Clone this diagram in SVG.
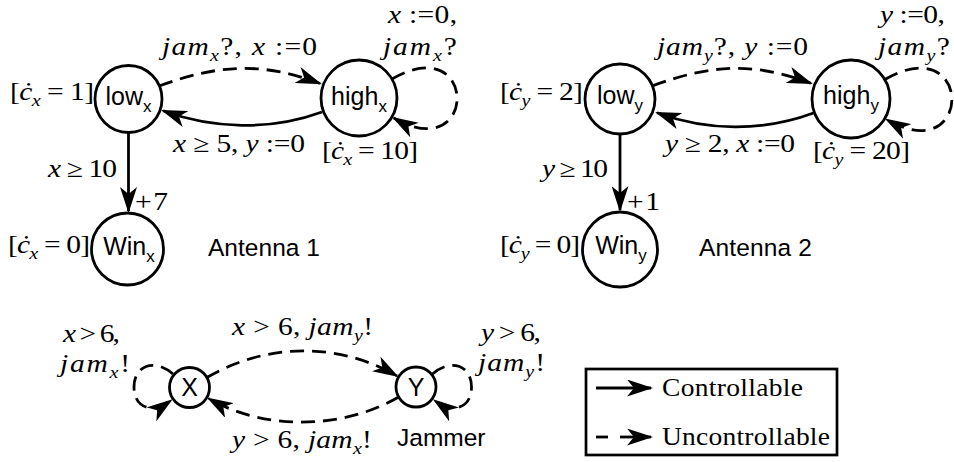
<svg xmlns="http://www.w3.org/2000/svg" width="954" height="462" viewBox="0 0 954 462">
<defs>
<marker id="ah" viewBox="0 0 26 17" refX="24" refY="8.5" markerWidth="26" markerHeight="17" markerUnits="userSpaceOnUse" orient="auto">
<path d="M26,8.5 L0,0 L7,8.5 L0,17 Z" fill="#000"/>
</marker>
<style>
.n{fill:#fff;stroke:#000;stroke-width:2.8}
.e{fill:none;stroke:#000;stroke-width:2.8}
.d{stroke-dasharray:14 8}
.a{marker-end:url(#ah)}
.sf{font-family:"Liberation Sans",Arial,sans-serif;font-size:25px;fill:#000}
.m{font-family:"Liberation Serif","Times New Roman",serif;font-size:25px;fill:#000}
.i{font-style:italic}
.s{font-size:17px}
</style>
</defs>
<rect width="954" height="462" fill="#fff"/>

<g id="connectors">
<path class="e d a" d="M159,86 C219,64 263,62 320,83.5"/>
<path class="e a" d="M322,112 C270,131 213,129 163,110.8"/>
<path class="e a" d="M128.5,132.5 L128.5,211"/>
<path class="e d a" d="M392,79 C478.6,29 478.6,167 393.7,118"/>

<path class="e d a" d="M652.4,85.9 C712,64 753,62 811,83.3"/>
<path class="e a" d="M813.5,113 C762,132 707,131 657,112.7"/>
<path class="e a" d="M620,134 L620,210"/>
<path class="e d a" d="M884.8,79.5 C974,28 974,170 886.5,119.5"/>

<path class="e d a" d="M206.8,377.5 C267.4,342.5 338.1,342 397,376"/>
<path class="e d a" d="M398.7,397 C341.5,430 264,430.5 208.6,398.5"/>
<path class="e d a" d="M173,374 C155,358 134,365 134,387 C134,408 152,414 171,400.5"/>
<path class="e d a" d="M432.5,374 C450.5,358 471.5,365 471.5,387 C471.5,408 453.5,414 434.5,400.5"/>
</g>

<g id="low_x"><circle class="n" cx="128.5" cy="99" r="33.5"/><text class="sf" x="128.5" y="105" text-anchor="middle">low<tspan class="s" dy="7">x</tspan></text></g>
<g id="high_x"><circle class="n" cx="359" cy="98" r="38"/><text class="sf" x="359" y="105" text-anchor="middle">high<tspan class="s" dy="7">x</tspan></text></g>
<g id="win_x"><circle class="n" cx="127.5" cy="249" r="36"/><text class="sf" x="129" y="255" text-anchor="middle">Win<tspan class="s" dy="7">x</tspan></text></g>

<g id="low_y"><circle class="n" cx="620" cy="99" r="35"/><text class="sf" x="620" y="104" text-anchor="middle">low<tspan class="s" dy="7">y</tspan></text></g>
<g id="high_y"><circle class="n" cx="851" cy="99" r="39"/><text class="sf" x="851" y="104" text-anchor="middle">high<tspan class="s" dy="7">y</tspan></text></g>
<g id="win_y"><circle class="n" cx="620" cy="249.5" r="37.5"/><text class="sf" x="621" y="254" text-anchor="middle">Win<tspan class="s" dy="7">y</tspan></text></g>

<g id="jam_X"><circle class="n" cx="189.5" cy="387.5" r="20"/><text class="sf" x="189.5" y="396" text-anchor="middle">X</text></g>
<g id="jam_Y"><circle class="n" cx="416" cy="387" r="20"/><text class="sf" x="416" y="396" text-anchor="middle">Y</text></g>

<g id="labels">
<text class="m" transform="matrix(1.18 0 0 1 388 23)" textLength="58.5"><tspan class="i">x</tspan> :=0,</text>
<text class="m" transform="matrix(1.18 0 0 1 383 55)" textLength="62.7"><tspan class="i">jam</tspan><tspan class="i s" dy="6">x</tspan><tspan dy="-6">?</tspan></text>
<text class="m" transform="matrix(1.18 0 0 1 162 55)" textLength="131.4"><tspan class="i">jam</tspan><tspan class="i s" dy="6">x</tspan><tspan dy="-6">?, </tspan><tspan class="i">x</tspan> :=0</text>
<text class="m" transform="matrix(1.18 0 0 1 10 100)" textLength="71.2">[<tspan class="i">ċ</tspan><tspan class="i s" dy="6">x</tspan><tspan dy="-6"> = 1]</tspan></text>
<text class="m" transform="matrix(1.18 0 0 1 173 152)" textLength="111.9"><tspan class="i">x</tspan> ≥ 5, <tspan class="i">y</tspan> :=0</text>
<text class="m" transform="matrix(1.18 0 0 1 322 159)" textLength="81.4">[<tspan class="i">ċ</tspan><tspan class="i s" dy="6">x</tspan><tspan dy="-6"> = 10]</tspan></text>
<text class="m" transform="matrix(1.18 0 0 1 48 177)" textLength="58.5"><tspan class="i">x</tspan> ≥ 10</text>
<text class="m" transform="matrix(1.18 0 0 1 135 210)" textLength="28">+7</text>
<text class="m" transform="matrix(1.18 0 0 1 8 253)" textLength="69.5">[<tspan class="i">ċ</tspan><tspan class="i s" dy="6">x</tspan><tspan dy="-6"> = 0]</tspan></text>
<text class="sf" x="208" y="256" textLength="112" style="font-size:24.5px">Antenna 1</text>

<text class="m" transform="matrix(1.18 0 0 1 880 23)" textLength="55.1"><tspan class="i">y</tspan> :=0,</text>
<text class="m" transform="matrix(1.18 0 0 1 878 55)" textLength="61"><tspan class="i">jam</tspan><tspan class="i s" dy="6">y</tspan><tspan dy="-6">?</tspan></text>
<text class="m" transform="matrix(1.18 0 0 1 657 55)" textLength="128"><tspan class="i">jam</tspan><tspan class="i s" dy="6">y</tspan><tspan dy="-6">?, </tspan><tspan class="i">y</tspan> :=0</text>
<text class="m" transform="matrix(1.18 0 0 1 500 100)" textLength="70.3">[<tspan class="i">ċ</tspan><tspan class="i s" dy="6">y</tspan><tspan dy="-6"> = 2]</tspan></text>
<text class="m" transform="matrix(1.18 0 0 1 665 152)" textLength="110.2"><tspan class="i">y</tspan> ≥ 2, <tspan class="i">x</tspan> :=0</text>
<text class="m" transform="matrix(1.18 0 0 1 813 159)" textLength="82.2">[<tspan class="i">ċ</tspan><tspan class="i s" dy="6">y</tspan><tspan dy="-6"> = 20]</tspan></text>
<text class="m" transform="matrix(1.18 0 0 1 542 177)" textLength="55.9"><tspan class="i">y</tspan> ≥ 10</text>
<text class="m" transform="matrix(1.18 0 0 1 627 210)" textLength="28">+1</text>
<text class="m" transform="matrix(1.18 0 0 1 500 253)" textLength="67.8">[<tspan class="i">ċ</tspan><tspan class="i s" dy="6">y</tspan><tspan dy="-6"> = 0]</tspan></text>
<text class="sf" x="699" y="256" textLength="113" style="font-size:24.5px">Antenna 2</text>

<text class="m" transform="matrix(1.18 0 0 1 63 342)" textLength="48.3"><tspan class="i">x</tspan> &gt; 6,</text>
<text class="m" transform="matrix(1.18 0 0 1 60 372)" textLength="59.3"><tspan class="i">jam</tspan><tspan class="i s" dy="6">x</tspan><tspan dy="-6">!</tspan></text>
<text class="m" transform="matrix(1.18 0 0 1 232 335)" textLength="119.5"><tspan class="i">x</tspan> &gt; 6, <tspan class="i">jam</tspan><tspan class="i s" dy="6">y</tspan><tspan dy="-6">!</tspan></text>
<text class="m" transform="matrix(1.18 0 0 1 232 448)" textLength="118.6"><tspan class="i">y</tspan> &gt; 6, <tspan class="i">jam</tspan><tspan class="i s" dy="6">x</tspan><tspan dy="-6">!</tspan></text>
<text class="m" transform="matrix(1.18 0 0 1 481 341)" textLength="50.8"><tspan class="i">y</tspan> &gt; 6,</text>
<text class="m" transform="matrix(1.18 0 0 1 478 371)" textLength="56.8"><tspan class="i">jam</tspan><tspan class="i s" dy="6">y</tspan><tspan dy="-6">!</tspan></text>
<text class="sf" x="397" y="446" style="font-size:24.5px">Jammer</text>
</g>

<g id="legend">
<rect x="586" y="369" width="251" height="86" fill="#fff" stroke="#000" stroke-width="2.7"/>
<path class="e a" d="M596,388 L651,388"/>
<path class="e" d="M596,437 L608,437"/>
<path class="e a" d="M620,437 L651,437"/>
<text class="m" transform="matrix(1.1 0 0 1 662 396)" textLength="128.2">Controllable</text>
<text class="m" transform="matrix(1.1 0 0 1 662 445)" textLength="152.7">Uncontrollable</text>
</g>
</svg>
